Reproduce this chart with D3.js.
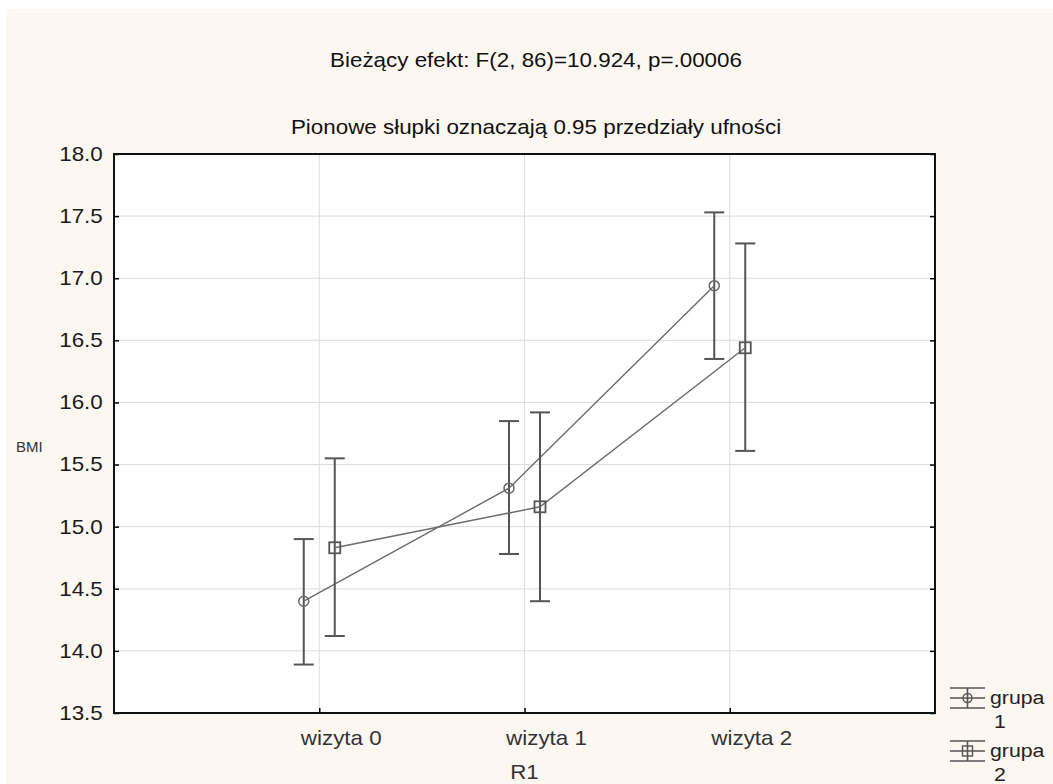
<!DOCTYPE html>
<html>
<head>
<meta charset="utf-8">
<script src="https://cdn.jsdelivr.net/npm/d3@7"></script>
<style>
  body { margin: 0; background: #ffffff; }
  svg text { font-family: "Liberation Sans", Arial, sans-serif; }
</style>
</head>
<body>
<div id="chart"></div>
<script>
// data
var wizyty = ["wizyta 0", "wizyta 1", "wizyta 2"];
var grupy = ["grupa 1", "grupa 2"];
var grupa1Mean = [14.40, 15.31, 16.94];
var grupa1Lo   = [13.89, 14.78, 16.35];
var grupa1Hi   = [14.90, 15.85, 17.53];
var grupa2Mean = [14.83, 15.16, 16.44];
var grupa2Lo   = [14.12, 14.40, 15.61];
var grupa2Hi   = [15.55, 15.92, 17.28];
var yTicks = [13.5, 14.0, 14.5, 15.0, 15.5, 16.0, 16.5, 17.0, 17.5, 18.0];

var title1 = "Bieżący efekt: F(2, 86)=10.924, p=.00006";
var title2 = "Pionowe słupki oznaczają 0.95 przedziały ufności";

var width = 1053, height = 784;
var plotL = 114, plotR = 935, plotT = 154, plotB = 713;
var sx = 1.12; // the fonts in the picture run wide

var svg = d3.select("#chart").append("svg")
    .attr("width", width)
    .attr("height", height);

svg.append("rect")
    .attr("x", 6).attr("y", 9)
    .attr("width", width - 6).attr("height", height - 9)
    .attr("fill", "#fcf7f0");

svg.append("rect")
    .attr("x", plotL).attr("y", plotT)
    .attr("width", plotR - plotL).attr("height", plotB - plotT)
    .attr("fill", "#ffffff");

var x = d3.scalePoint()
    .domain(wizyty)
    .range([plotL, plotR])
    .padding(1);

var y = d3.scaleLinear()
    .domain([13.5, 18.0])
    .range([plotB, plotT]);

// helper for wide text
function wideText(g, tx, ty, str, size, anchor, color) {
    return g.append("text")
        .attr("transform", "translate(" + tx + "," + ty + ") scale(" + sx + ",1)")
        .attr("text-anchor", anchor)
        .style("font-size", size + "px")
        .attr("fill", color)
        .text(str);
}

// grid
svg.append("g").selectAll("line")
    .data(yTicks.slice(1, -1))
    .enter().append("line")
    .attr("x1", plotL).attr("x2", plotR)
    .attr("y1", function(d) { return y(d); })
    .attr("y2", function(d) { return y(d); })
    .attr("stroke", "#dcdcdc").attr("stroke-width", 1);

svg.append("g").selectAll("line")
    .data(wizyty)
    .enter().append("line")
    .attr("x1", function(d) { return x(d); })
    .attr("x2", function(d) { return x(d); })
    .attr("y1", plotT).attr("y2", plotB)
    .attr("stroke", "#dcdcdc").attr("stroke-width", 1);

// axes with inward ticks
var yAxis = svg.append("g")
    .attr("transform", "translate(" + plotL + ",0)")
    .call(d3.axisLeft(y).tickValues(yTicks).tickFormat(d3.format(".1f"))
          .tickSizeInner(-5).tickSizeOuter(0).tickPadding(10));
yAxis.select(".domain").remove();
yAxis.selectAll(".tick line").attr("stroke", "#000").attr("stroke-width", 1.5);
yAxis.selectAll(".tick text")
    .attr("transform", "scale(" + sx + ",1)")
    .style("font-size", "20px")
    .style("font-family", "Liberation Sans, Arial, sans-serif")
    .attr("fill", "#1a1a1a");

var yAxisR = svg.append("g")
    .attr("transform", "translate(" + plotR + ",0)")
    .call(d3.axisRight(y).tickValues(yTicks).tickSizeInner(-5).tickSizeOuter(0).tickFormat(""));
yAxisR.select(".domain").remove();
yAxisR.selectAll(".tick line").attr("stroke", "#000").attr("stroke-width", 1.5);

var xAxis = svg.append("g")
    .attr("transform", "translate(0," + plotB + ")")
    .call(d3.axisBottom(x).tickSizeInner(-5).tickSizeOuter(0).tickFormat(""));
xAxis.select(".domain").remove();
xAxis.selectAll(".tick line").attr("stroke", "#000").attr("stroke-width", 1.5);

wizyty.forEach(function(w) {
    wideText(svg, x(w) + 22, 745, w, 20, "middle", "#333");
});

// frame
svg.append("rect")
    .attr("x", plotL).attr("y", plotT)
    .attr("width", plotR - plotL).attr("height", plotB - plotT)
    .attr("fill", "none")
    .attr("stroke", "#111").attr("stroke-width", 2);

// titles
wideText(svg, 536, 67, title1, 20, "middle", "#111");
wideText(svg, 536, 134, title2, 20, "middle", "#111");
wideText(svg, (plotL + plotR) / 2, 779, "R1", 20, "middle", "#333");
svg.append("text")
    .attr("x", 16).attr("y", 452)
    .style("font-size", "15px")
    .attr("fill", "#333")
    .text("BMI");

// series
var series = [
    { name: grupy[0], mean: grupa1Mean, lo: grupa1Lo, hi: grupa1Hi, dx: -15.5, mark: "circle" },
    { name: grupy[1], mean: grupa2Mean, lo: grupa2Lo, hi: grupa2Hi, dx: 15.5, mark: "square" }
];

var line = d3.line()
    .x(function(d) { return d[0]; })
    .y(function(d) { return d[1]; });

series.forEach(function(s) {
    var pts = wizyty.map(function(w, i) { return [x(w) + s.dx, y(s.mean[i])]; });
    var g = svg.append("g");

    // error bars
    wizyty.forEach(function(w, i) {
        var cx = x(w) + s.dx;
        g.append("line")
            .attr("x1", cx).attr("x2", cx)
            .attr("y1", y(s.lo[i])).attr("y2", y(s.hi[i]))
            .attr("stroke", "#555").attr("stroke-width", 2);
        [s.lo[i], s.hi[i]].forEach(function(v) {
            g.append("line")
                .attr("x1", cx - 10).attr("x2", cx + 10)
                .attr("y1", y(v)).attr("y2", y(v))
                .attr("stroke", "#555").attr("stroke-width", 2);
        });
    });

    g.append("path")
        .attr("d", line(pts))
        .attr("fill", "none")
        .attr("stroke", "#6a6a6a").attr("stroke-width", 1.4);

    pts.forEach(function(p) {
        if (s.mark == "circle") {
            g.append("circle")
                .attr("cx", p[0]).attr("cy", p[1]).attr("r", 5)
                .attr("fill", "none").attr("stroke", "#666").attr("stroke-width", 1.5);
        } else {
            g.append("rect")
                .attr("x", p[0] - 5.5).attr("y", p[1] - 5.5)
                .attr("width", 11).attr("height", 11)
                .attr("fill", "none").attr("stroke", "#555").attr("stroke-width", 1.8);
        }
    });
});

// legend
series.forEach(function(s, i) {
    var top = 688 + i * 53, mid = top + 10, bot = top + 20;
    var lg = svg.append("g");
    [top, mid, bot].forEach(function(ly) {
        lg.append("line")
            .attr("x1", 950).attr("x2", 985)
            .attr("y1", ly).attr("y2", ly)
            .attr("stroke", "#555").attr("stroke-width", 1.6);
    });
    lg.append("line")
        .attr("x1", 967.5).attr("x2", 967.5)
        .attr("y1", top).attr("y2", bot)
        .attr("stroke", "#555").attr("stroke-width", 1.6);
    if (s.mark == "circle") {
        lg.append("circle")
            .attr("cx", 967.5).attr("cy", mid).attr("r", 4.5)
            .attr("fill", "none").attr("stroke", "#555").attr("stroke-width", 1.4);
    } else {
        lg.append("rect")
            .attr("x", 962.5).attr("y", mid - 5)
            .attr("width", 10).attr("height", 10)
            .attr("fill", "none").attr("stroke", "#555").attr("stroke-width", 1.4);
    }
    var parts = s.name.split(" ");
    wideText(lg, 990, top + 16, parts[0], 19, "start", "#222");
    wideText(lg, 1000, top + 40, parts[1], 19, "middle", "#222");
});
</script>
</body>
</html>
